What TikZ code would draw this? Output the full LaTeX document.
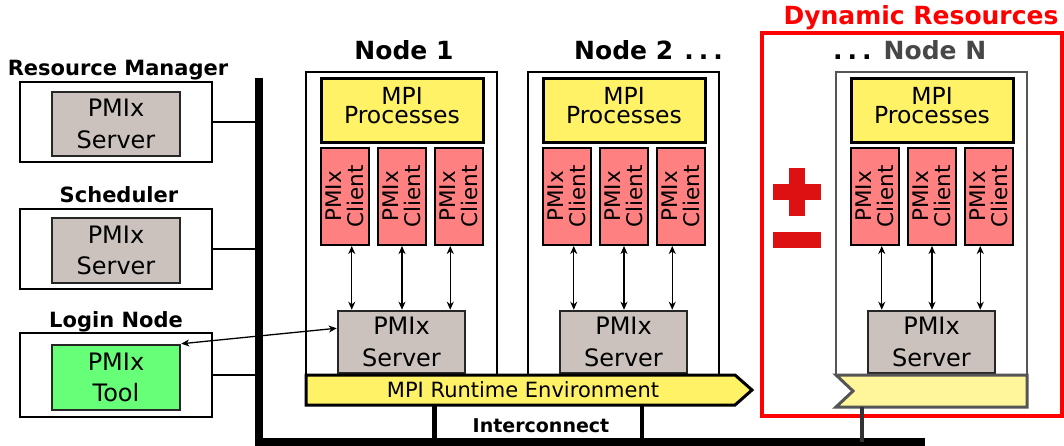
\documentclass[tikz,border=0pt]{standalone}
\usepackage{fontspec}
\setmainfont{DejaVu Sans}
\usetikzlibrary{arrows.meta}
\definecolor{mpiyel}{HTML}{FFF266}
\definecolor{mpiyellight}{HTML}{FFF59A}
\definecolor{clientred}{HTML}{FF8080}
\definecolor{srvgray}{HTML}{CBC2BD}
\definecolor{toolgreen}{HTML}{66FF77}
\definecolor{plusred}{HTML}{DD1111}
\definecolor{nodegray}{HTML}{555555}
\definecolor{titlegray}{HTML}{474747}
\begin{document}
\begin{tikzpicture}[x=1pt,y=-1pt,
  outerbox/.style={draw=black, line width=2pt, fill=white, inner sep=0pt},
  srvbox/.style={draw=black!85, line width=2.5pt, fill=srvgray, inner sep=0pt, align=center, font=\fontsize{24}{31.5}\selectfont},
  toolbox/.style={srvbox, fill=toolgreen},
  mpibox/.style={draw=black, line width=3pt, fill=mpiyel, inner sep=0pt, align=center, text depth=11pt, font=\fontsize{23.5}{18.5}\selectfont},
  clientbox/.style={draw=black, line width=2pt, fill=clientred, inner sep=0pt, minimum width=48, minimum height=97},
  clienttext/.style={rotate=90, align=center, font=\fontsize{21.5}{22}\selectfont, inner sep=0pt},
  title/.style={font=\fontsize{21}{23}\selectfont\bfseries, inner sep=0pt, anchor=base},
  bigtitle/.style={font=\fontsize{25}{27}\selectfont\bfseries, inner sep=0pt},
  biarrow/.style={line width=1.3pt, {Stealth[length=8pt,width=7pt,inset=2.5pt]}-{Stealth[length=8pt,width=7pt,inset=2.5pt]}},
  thinline/.style={line width=1.5pt, draw=black},
]
\useasboundingbox (0,0) rectangle (1064,446);

% bus
\coordinate (bustop) at (259,78);
\coordinate (buscorner) at (259,442);
\coordinate (busend) at (925,442);
\draw[line width=8pt, miter limit=10] (bustop) -- (buscorner) -- (busend);

% left side boxes
\node[outerbox, minimum width=192, minimum height=80] (rm) at (116,122) {};
\node[srvbox, minimum width=128, minimum height=64] (rmsrv) at (116,124) {PMIx\\Server};
\node[title] (rmlbl) at (118,76) {Resource Manager};

\node[outerbox, minimum width=192, minimum height=80] (sch) at (116,249) {};
\node[srvbox, minimum width=128, minimum height=65] (schsrv) at (116,250.5) {PMIx\\Server};
\node[title] (schlbl) at (119,203) {Scheduler};

\node[outerbox, minimum width=192, minimum height=84] (login) at (116,375) {};
\node[toolbox, minimum width=128, minimum height=65] (tool) at (116,377.5) {PMIx\\Tool};
\node[title] (loginlbl) at (116,327) {Login Node};

\draw[thinline] (rm.east) -- (rm.east -| bustop);
\draw[thinline] (sch.east) -- (sch.east -| bustop);
\draw[thinline] (login.east) -- (login.east -| bustop);

% dynamic resources frame
\node[draw=red, line width=4pt, minimum width=300, minimum height=383, inner sep=0pt] (dyn) at (912,224.5) {};
\node[bigtitle, text=red, anchor=base] (dynlbl) at (921,25) {Dynamic Resources};

% plus / minus
\fill[plusred] (789,168) rectangle (805,216);
\fill[plusred] (773,184) rectangle (821,200);
\fill[plusred] (773,232) rectangle (821,248);

% compute nodes
\foreach \n/\ox/\col in {1/306/black, 2/528/black, N/836/nodegray}{
  \node[draw=\col, line width=2pt, fill=white, minimum width=191, minimum height=303, inner sep=0pt] (node\n) at (\ox+95.5,223.5) {};
  \node[mpibox, minimum width=162, minimum height=64] (mpi\n) at (\ox+96,111) {MPI\\Processes};
  \node[clientbox] (ca\n) at (\ox+39,196.5) {};
  \node[clientbox] (cb\n) at (\ox+96,196.5) {};
  \node[clientbox] (cc\n) at (\ox+153,196.5) {};
  \node[clienttext] at (ca\n) {PMIx\\Client};
  \node[clienttext] at (cb\n) {PMIx\\Client};
  \node[clienttext] at (cc\n) {PMIx\\Client};
  \node[srvbox, minimum width=127, minimum height=62] (srv\n) at (\ox+95.5,342) {PMIx\\Server};
  \coordinate (pa\n) at ([xshift=15pt]srv\n.north west);
  \coordinate (pc\n) at ([xshift=-16pt]srv\n.north east);
  \draw[biarrow] (ca\n.south -| pa\n) -- (pa\n);
  \draw[biarrow] (cb\n.south) -- (cb\n.south |- srv\n.north);
  \draw[biarrow] (cc\n.south -| pc\n) -- (pc\n);
}

\node[bigtitle, anchor=base] (n1lbl) at (404,60) {Node 1};
\node[bigtitle, anchor=base west] (n2lbl) at (574,60) {Node 2\hspace{11pt}.\hspace{5pt}.\hspace{5pt}.};
\node[bigtitle, anchor=base west] (nnlbl) at (833,60) {.\hspace{5pt}.\hspace{5pt}.\hspace{12pt}\textcolor{titlegray}{Node N}};

% runtime environment
\draw[line width=3pt, fill=mpiyel, line join=miter] (306,375) -- (735,375) -- (752,390) -- (735,405) -- (306,405) -- cycle;
\node[inner sep=0pt, anchor=base, font=\fontsize{21}{23}\selectfont] (rte) at (523,397) {MPI Runtime Environment};
\draw[line width=3pt, draw=nodegray, fill=mpiyellight, line join=miter] (836,375) -- (1027,375) -- (1027,407) -- (836,407) -- (853,391) -- cycle;

% interconnect
\coordinate (ic1) at (434,405);
\coordinate (ic2) at (642,405);
\coordinate (ic3) at (862,407);
\draw[line width=5pt] (ic1) -- (ic1 |- busend);
\draw[line width=4pt] (ic2) -- (ic2 |- busend);
\draw[line width=4pt, draw=black!80] (ic3) -- (ic3 |- busend);
\node[font=\fontsize{19}{21}\selectfont\bfseries, inner sep=0pt, anchor=base] (iclbl) at (541,432) {Interconnect};

% tool arrow
\draw[biarrow] (tool.north east) -- (srv1.168);
\end{tikzpicture}
\end{document}
